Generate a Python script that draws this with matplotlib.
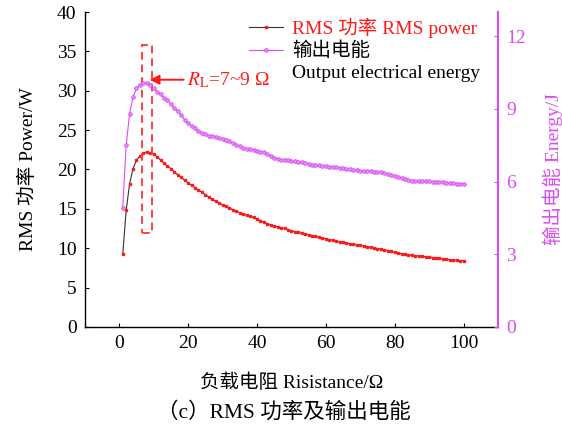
import matplotlib
matplotlib.use("Agg")
import matplotlib.pyplot as plt
from matplotlib.lines import Line2D
from matplotlib.patches import Rectangle

plt.rcParams['font.family'] = ['Liberation Serif', 'Noto Sans CJK SC']
plt.rcParams['mathtext.fontset'] = 'stix'

resistance = list(range(1, 101))

power = [
    9.2, 14.8, 18.2, 20.1, 21.2, 21.7, 22.1, 22.2, 22.1, 21.9,
    21.6, 21.2, 20.8, 20.4, 20.1, 19.7, 19.3, 19.0, 18.6, 18.3,
    18.0, 17.7, 17.4, 17.1, 16.8, 16.5, 16.2, 16.0, 15.75, 15.5,
    15.3, 15.1, 14.9, 14.7, 14.5, 14.35, 14.2, 14.05, 13.9, 13.7,
    13.5, 13.3, 13.1, 12.95, 12.8, 12.7, 12.6, 12.5, 12.35, 12.2,
    12.1, 12.0, 11.9, 11.8, 11.7, 11.6, 11.5, 11.4, 11.3, 11.2,
    11.1, 11.0, 10.9, 10.8, 10.75, 10.65, 10.55, 10.5, 10.4, 10.35,
    10.25, 10.2, 10.1, 10.05, 9.95, 9.9, 9.8, 9.7, 9.6, 9.5,
    9.4, 9.3, 9.2, 9.15, 9.1, 9.05, 9.0, 8.95, 8.9, 8.85,
    8.8, 8.75, 8.7, 8.65, 8.6, 8.55, 8.5, 8.45, 8.42, 8.4,
]

energy = [
    4.9, 7.5, 8.8, 9.5, 9.85, 9.98, 10.05, 10.05, 9.98, 9.85,
    9.7, 9.6, 9.45, 9.35, 9.2, 9.05, 8.9, 8.75, 8.55, 8.4,
    8.3, 8.2, 8.1, 8.0, 7.95, 7.9, 7.88, 7.85, 7.8, 7.77,
    7.72, 7.66, 7.58, 7.5, 7.45, 7.4, 7.36, 7.33, 7.3, 7.27,
    7.24, 7.2, 7.12, 7.04, 6.98, 6.94, 6.91, 6.89, 6.87, 6.85,
    6.83, 6.81, 6.79, 6.76, 6.73, 6.7, 6.68, 6.67, 6.65, 6.64,
    6.62, 6.6, 6.59, 6.57, 6.55, 6.53, 6.51, 6.49, 6.47, 6.45,
    6.44, 6.43, 6.42, 6.41, 6.4, 6.38, 6.35, 6.31, 6.27, 6.23,
    6.18, 6.13, 6.09, 6.06, 6.04, 6.03, 6.02, 6.02, 6.02, 6.01,
    6.0, 5.99, 5.98, 5.97, 5.96, 5.95, 5.93, 5.92, 5.91, 5.9,
]

x_ticks = [0, 20, 40, 60, 80, 100]
power_ticks = [0, 5, 10, 15, 20, 25, 30, 35, 40]
energy_ticks = [0, 3, 6, 9, 12]

VIOLET = '#d94cf2'
RED = '#ff1a1a'
DASH_RED = '#ff4040'
FS = 14

fig = plt.figure(figsize=(5.62, 4.29), dpi=100)
ax = fig.add_axes([0.151, 0.238, 0.735, 0.734])
ax2 = ax.twinx()

l1, = ax.plot(resistance, power, color='#333333', lw=0.8, marker='s',
              ms=2.0, mfc=RED, mec=RED, zorder=3)
l2, = ax2.plot(resistance, energy, color=VIOLET, lw=0.8, marker='o',
               ms=2.6, mfc='#e98cf8', mec=VIOLET, mew=0.6, zorder=3)

ax.set_xlim(-10, 110)
ax.set_ylim(0, 40)
ax2.set_ylim(0, 13)
ax.set_xticks(x_ticks)
ax.set_yticks(power_ticks)
ax2.set_yticks(energy_ticks)

for a in (ax, ax2):
    a.spines['top'].set_visible(False)
ax.spines['right'].set_visible(False)
ax2.spines['left'].set_visible(False)
ax2.spines['bottom'].set_visible(False)
ax2.spines['right'].set_color(VIOLET)
ax2.spines['right'].set_linewidth(1.5)
ax.spines['left'].set_linewidth(1.0)
ax.spines['bottom'].set_linewidth(1.0)

ax.tick_params(direction='in', length=3, labelsize=FS, pad=6)
ax2.tick_params(direction='in', length=3, labelsize=FS, colors=VIOLET, pad=6)

ax.set_xlabel('负载电阻 Risistance/Ω', fontsize=FS, labelpad=15)
ax.set_ylabel('RMS 功率 Power/W', fontsize=FS, labelpad=14)
ax2.set_ylabel('输出电能 Energy/J', fontsize=FS, color=VIOLET, labelpad=12)

# optimal load range
ax.add_patch(Rectangle((6.5, 11.9), 3.0, 23.9, fill=False, ec=DASH_RED,
                       ls=(0, (4, 2.5)), lw=1.4, zorder=4))
ax.annotate('', xy=(8.0, 31.4), xytext=(19.5, 31.4),
            arrowprops=dict(arrowstyle='-|>', color=RED, lw=1.4,
                            mutation_scale=14), zorder=5)
ax.text(19.8, 31.4, r'$R_{\rm L}$=7~9 Ω', color=RED, fontsize=FS,
        va='center', ha='left', zorder=5)

blank = Line2D([], [], linestyle='none')
leg = ax.legend([l1, l2, blank],
                ['RMS 功率 RMS power', '输出电能', 'Output electrical energy'],
                loc='upper left', bbox_to_anchor=(0.37, 1.02),
                frameon=False, fontsize=FS, handlelength=1.75,
                handletextpad=0.45, labelspacing=0.22, borderpad=0.1)
leg.get_texts()[0].set_color(RED)

fig.text(0.505, 0.015, '（c）RMS 功率及输出电能', ha='center', va='bottom',
         fontsize=15.5)

fig.savefig('out.png', dpi=100)
